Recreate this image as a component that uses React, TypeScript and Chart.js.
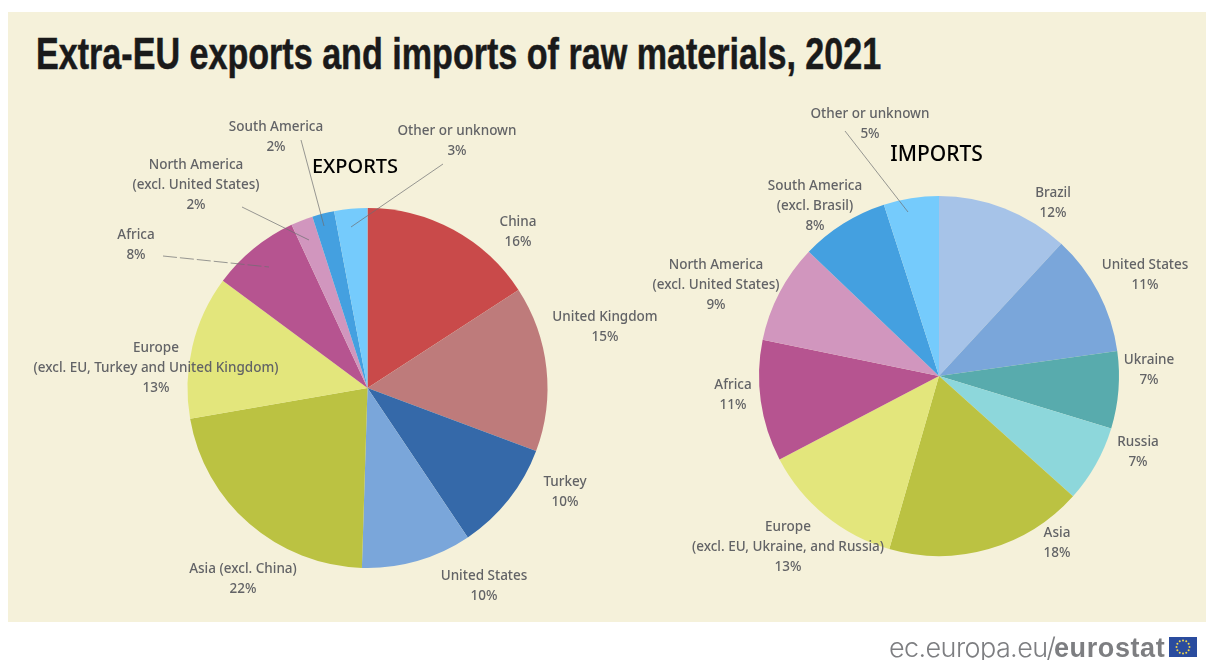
import React, { useEffect, useRef } from "react";
import { Chart, registerables } from "chart.js";

Chart.register(...registerables);

const TITLE = "Extra-EU exports and imports of raw materials, 2021";

// Exports, clockwise from twelve o'clock
const exportNames = [
  ["China"],
  ["United Kingdom"],
  ["Turkey"],
  ["United States"],
  ["Asia (excl. China)"],
  ["Europe", "(excl. EU, Turkey and United Kingdom)"],
  ["Africa"],
  ["North America", "(excl. United States)"],
  ["South America"],
  ["Other or unknown"],
];
const exportValues = [16, 15, 10, 10, 22, 13, 8, 2, 2, 3];
const exportColors = ["#C94A4A", "#BE7B7B", "#3569A9", "#7AA6DA", "#BBC242", "#E3E67C", "#B65490", "#D196BE", "#44A0E0", "#75CBFC"];

// Imports, clockwise from twelve o'clock
const importNames = [
  ["Brazil"],
  ["United States"],
  ["Ukraine"],
  ["Russia"],
  ["Asia"],
  ["Europe", "(excl. EU, Ukraine, and Russia)"],
  ["Africa"],
  ["North America", "(excl. United States)"],
  ["South America", "(excl. Brasil)"],
  ["Other or unknown"],
];
const importValues = [12, 11, 7, 7, 18, 13, 11, 9, 8, 5];
const importColors = ["#A6C3E8", "#7AA6DA", "#58ABAD", "#8DD7DB", "#BBC242", "#E3E67C", "#B65490", "#D196BE", "#44A0E0", "#75CBFC"];

// Label anchors in canvas pixels: centre x and the baseline of the first line
const exportLabelAt = [[518, 226], [605, 321], [565, 486], [484, 580], [243, 573], [156, 352], [136, 239], [196, 169], [276, 131], [457, 135]];
const importLabelAt = [[413, 197], [505, 269], [509, 364], [498, 446], [417, 537], [148, 531], [93, 389], [76, 269], [175, 190], [230, 118]];

// Leader lines: x0, y0, x1, y1, dashed
type Leader = [number, number, number, number, boolean];
const exportLeaders: Leader[] = [
  [163, 256, 269, 267, true],
  [242, 207, 309, 240, false],
  [301, 140, 324, 226, false],
  [443, 164, 351, 227, false],
];
const importLeaders: Leader[] = [[205, 131, 268, 212, false]];

const LABEL_FONT = "500 13.5px 'Noto Sans', sans-serif";
const LINE_GAP = 20;

function makePie(
  canvas: HTMLCanvasElement,
  names: string[][],
  values: number[],
  colors: string[],
  labelAt: number[][],
  leaders: Leader[],
  heading: string,
  headingAt: [number, number],
  headingFont: string,
  padding: { left: number; right: number; top: number; bottom: number },
) {
  return new Chart(canvas, {
    type: "pie",
    data: {
      labels: names.map((n) => n.join(" ")),
      datasets: [{ data: values, backgroundColor: colors, borderWidth: 0 }],
    },
    options: {
      responsive: false,
      animation: false,
      layout: { padding },
      plugins: { legend: { display: false }, tooltip: { enabled: false } },
    },
    plugins: [
      {
        id: "calloutLabels",
        afterDraw(chart) {
          const { ctx } = chart;
          ctx.save();
          ctx.strokeStyle = "#6d6e71";
          ctx.lineWidth = 0.7;
          leaders.forEach(([x0, y0, x1, y1, dashed]) => {
            ctx.setLineDash(dashed ? [14, 3] : []);
            ctx.beginPath();
            ctx.moveTo(x0, y0);
            ctx.lineTo(x1, y1);
            ctx.stroke();
          });
          ctx.setLineDash([]);
          ctx.textAlign = "center";
          ctx.textBaseline = "alphabetic";
          ctx.fillStyle = "#626366";
          ctx.font = LABEL_FONT;
          names.forEach((lines, i) => {
            const [x, y] = labelAt[i];
            [...lines, `${values[i]}%`].forEach((line, k) => ctx.fillText(line, x, y + k * LINE_GAP));
          });
          ctx.fillStyle = "#000";
          ctx.font = headingFont;
          ctx.fillText(heading, headingAt[0], headingAt[1]);
          ctx.restore();
        },
      },
    ],
  });
}

export default function App() {
  const leftRef = useRef<HTMLCanvasElement>(null);
  const rightRef = useRef<HTMLCanvasElement>(null);
  const flagRef = useRef<HTMLCanvasElement>(null);

  useEffect(() => {
    const left = makePie(leftRef.current!, exportNames, exportValues, exportColors, exportLabelAt, exportLeaders, "EXPORTS", [355, 173], "500 20px 'Noto Sans', sans-serif", { left: 187, right: 132, top: 208, bottom: 92 });
    const right = makePie(rightRef.current!, importNames, importValues, importColors, importLabelAt, importLeaders, "IMPORTS", [296.5, 161], "500 21px 'Noto Sans', sans-serif", { left: 119, right: 87, top: 196, bottom: 104 });

    // Flag beside the site name: blue field with a ring of twelve stars
    const f = flagRef.current!.getContext("2d")!;
    f.fillStyle = "#2A4C9E";
    f.fillRect(0, 0, 28, 20);
    f.fillStyle = "#F3D84A";
    for (let i = 0; i < 12; i++) {
      const a = (i * Math.PI) / 6;
      f.beginPath();
      f.arc(14 + 6.5 * Math.cos(a), 10 + 6.5 * Math.sin(a), 1, 0, Math.PI * 2);
      f.fill();
    }
    return () => {
      left.destroy();
      right.destroy();
    };
  }, []);

  const abs = { position: "absolute" } as const;
  return (
    <div style={{ ...abs, left: 0, top: 0, width: 1206, height: 660, background: "#fff", overflow: "hidden" }}>
      <div style={{ ...abs, left: 8, top: 12, width: 1198, height: 610, background: "#F5F1DA" }} />
      <div style={{ ...abs, left: 36, top: 28, fontFamily: "'Liberation Sans', sans-serif", fontWeight: 700, fontSize: 44, lineHeight: "52px", color: "#1a1a1a", whiteSpace: "nowrap", transform: "scaleX(0.775)", transformOrigin: "0 0", WebkitTextStroke: "0.5px #1a1a1a" }}>{TITLE}</div>
      <canvas ref={leftRef} width={680} height={660} style={{ ...abs, left: 0, top: 0 }} />
      <canvas ref={rightRef} width={566} height={660} style={{ ...abs, left: 640, top: 0 }} />
      <div style={{ ...abs, left: 889, top: 632, fontSize: 27, lineHeight: "32px", color: "#7d7e81", whiteSpace: "nowrap", fontFamily: "'Liberation Sans', sans-serif" }}>
        <span style={{ fontFamily: "Inter, sans-serif", fontWeight: 300, display: "inline-block", width: 165, letterSpacing: "-0.6px" }}>ec.europa.eu/</span>
        <b style={{ letterSpacing: "0.6px" }}>eurostat</b>
      </div>
      <canvas ref={flagRef} width={28} height={20} style={{ ...abs, left: 1169, top: 637 }} />
    </div>
  );
}
